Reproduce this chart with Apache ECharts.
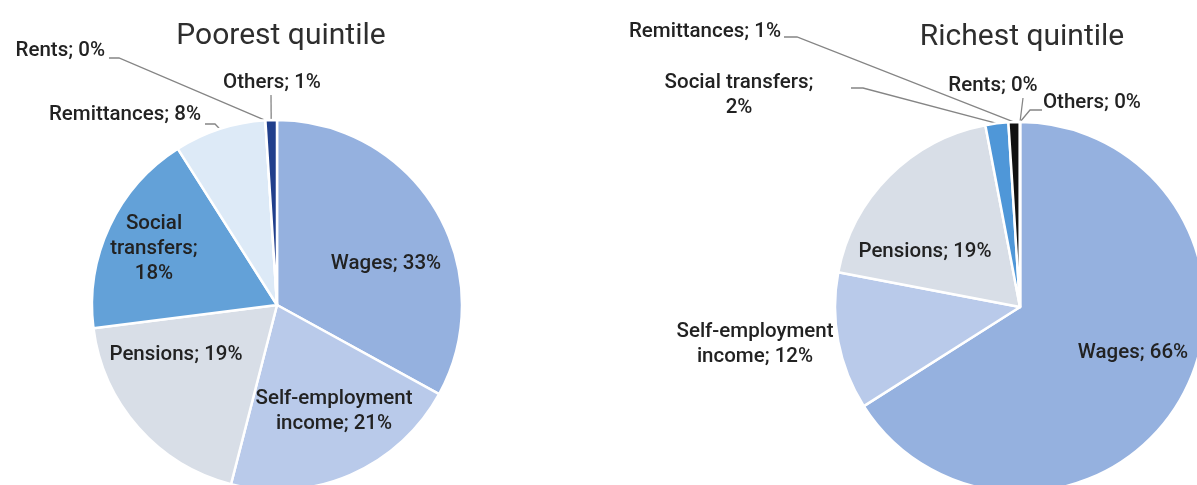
<!DOCTYPE html>
<html>
<head>
<meta charset="utf-8">
<script src="https://cdn.jsdelivr.net/npm/echarts@6/dist/echarts.min.js"></script>
<style>
  html, body { margin: 0; padding: 0; background: #ffffff; }
  #chart { width: 1197px; height: 485px; }
</style>
</head>
<body>
<div id="chart"></div>
<script>
// Income sources, share of household income (%)
const categories = ['Wages', 'Self-employment income', 'Pensions', 'Social transfers', 'Remittances', 'Rents', 'Others'];
const poorestShares = [33, 21, 19, 18, 8, 0, 1];
const richestShares = [66, 12, 19, 2, 1, 0, 0];
const panelTitles = ['Poorest quintile', 'Richest quintile'];

// How each category name is wrapped in the slice labels of each pie
const poorestLabelNames = ['Wages', 'Self-employment\nincome', 'Pensions', 'Social\ntransfers', 'Remittances', 'Rents', 'Others'];
const richestLabelNames = ['Wages', 'Self-employment\nincome', 'Pensions', 'Social transfers', 'Remittances', 'Rents', 'Others'];
// Separator between name and value (line break for the social transfers labels)
const valueBreaks = ['; ', '; ', '; ', ';\n', '; ', '; ', '; '];

const palettes = [
  ['#95B1DF', '#B9CAEA', '#D8DEE7', '#63A1D8', '#DDEAF7', '#7F7F7F', '#203F8C'],
  ['#95B1DF', '#B9CAEA', '#D8DEE7', '#4F97D8', '#111111', '#7F7F7F', '#203F8C']
];

// Pie geometry (px)
const PIE_RADIUS = 185;
const PIE_CENTERS = [[277, 305], [1020, 307]];

// Label placement per slice: centre (or anchored edge) of the text, plus leader line bend points
const labelPlacement = [
  [
    { x: 386, y: 264 },
    { x: 334, y: 411 },
    { x: 176, y: 355 },
    { x: 154, y: 249 },
    { x: 201, y: 115, align: 'right', line: [[215, 124], [205, 124]] },
    { x: 105, y: 51, align: 'right', line: [[119, 58], [109, 58]] },
    { x: 272, y: 83, line: [[271, 95], [271, 95]] }
  ],
  [
    { x: 1133, y: 353 },
    { x: 755, y: 344 },
    { x: 925, y: 252 },
    { x: 739, y: 95, line: [[863, 88], [851, 88]] },
    { x: 781, y: 32, align: 'right', line: [[797, 37], [784, 37]] },
    { x: 993, y: 86, line: [[1023, 98], [1023, 98]] },
    { x: 1043, y: 103, align: 'left', line: [[1030, 110], [1042, 110]] }
  ]
];

function edgePoint(shares, centre, idx) {
  const total = shares.reduce((a, b) => a + b, 0);
  let before = 0;
  for (let i = 0; i < idx; i++) before += shares[i];
  const a = 2 * Math.PI * (before + shares[idx] / 2) / total;
  return [centre[0] + PIE_RADIUS * Math.sin(a), centre[1] - PIE_RADIUS * Math.cos(a)];
}

function buildSeries(pieIndex, shares, labelNames) {
  const placement = labelPlacement[pieIndex];
  const centre = PIE_CENTERS[pieIndex];
  return {
    type: 'pie',
    center: centre,
    radius: PIE_RADIUS,
    startAngle: 90,
    clockwise: true,
    avoidLabelOverlap: false,
    silent: true,
    itemStyle: { borderColor: '#ffffff', borderWidth: 2.5 },
    label: {
      show: true,
      position: 'outside',
      fontFamily: 'Roboto',
      fontWeight: 500,
      fontSize: 20.5,
      lineHeight: 25,
      color: '#222222',
      align: 'center',
      formatter: function (p) {
        return labelNames[p.dataIndex] + valueBreaks[p.dataIndex] + p.value + '%';
      }
    },
    labelLine: { show: true, lineStyle: { color: '#858585', width: 1.3 } },
    labelLayout: function (params) {
      const pl = placement[params.dataIndex];
      const out = { x: pl.x, y: pl.y, align: pl.align || 'center', verticalAlign: 'middle' };
      if (pl.line) {
        out.labelLinePoints = [edgePoint(shares, centre, params.dataIndex), pl.line[0], pl.line[1]];
      }
      return out;
    },
    data: categories.map(function (name, i) {
      const item = {
        name: name,
        value: shares[i],
        itemStyle: { color: palettes[pieIndex][i] }
      };
      if (!labelPlacement[pieIndex][i].line) {
        item.label = { position: 'inside' };
        item.labelLine = { show: false };
      }
      return item;
    })
  };
}

const chart = echarts.init(document.getElementById('chart'), null, { renderer: 'canvas' });
chart.setOption({
  backgroundColor: '#ffffff',
  animation: false,
  graphic: [
    { type: 'text', x: 281, y: 36, style: { text: panelTitles[0], font: '400 30px Roboto', fill: '#2E2E2E', textAlign: 'center', textVerticalAlign: 'middle' } },
    { type: 'text', x: 1022, y: 37, style: { text: panelTitles[1], font: '400 30px Roboto', fill: '#2E2E2E', textAlign: 'center', textVerticalAlign: 'middle' } }
  ],
  series: [
    buildSeries(0, poorestShares, poorestLabelNames),
    buildSeries(1, richestShares, richestLabelNames)
  ]
});
</script>
</body>
</html>
